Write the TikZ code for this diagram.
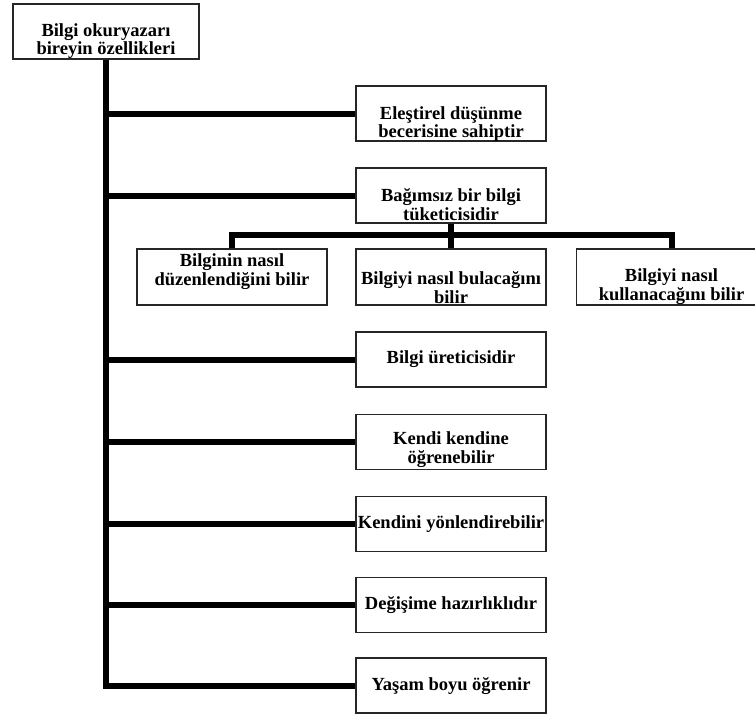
\documentclass[tikz,border=0pt]{standalone}
\usepackage{fontspec}
\setmainfont{Liberation Serif}
\begin{document}
\begin{tikzpicture}[x=1pt,y=-1pt,
  box/.style={draw=black!85, line width=1.5pt, fill=white,
    minimum width=190pt, minimum height=55pt, inner sep=0pt},
  lbl/.style={font=\fontsize{18.5}{18.8}\selectfont\bfseries,
    align=center, inner sep=0pt, text=black},
  conn/.style={line width=6pt, line join=miter, line cap=butt}]
\useasboundingbox (0,0) rectangle (755,716);

% frames
\node[box, minimum width=186pt] (top) at (106,31.5) {};
\node[box] (b1) at (451,113.5) {};
\node[box] (b2) at (451,195.5) {};
\node[box, minimum height=56pt] (s1) at (232,277) {};
\node[box, minimum height=56pt] (s2) at (451,277) {};
\node[box, minimum height=56pt] (s3) at (671.5,277) {};
\node[box] (b3) at (451,359.5) {};
\node[box] (b4) at (451,442) {};
\node[box] (b5) at (451,524) {};
\node[box] (b6) at (451,605) {};
\node[box] (b7) at (451,685.5) {};

% trunk and branches
\draw[conn] (top.south) |- (b7.west);
\foreach \b in {b1,b2,b3,b4,b5,b6}
  \draw[conn] (top.south |- \b.west) -- (\b.west);

% sub-branches
\draw[conn] (b2.south) -- (s2.north);
\draw[conn] (s1.north) -- ++(0,-13) -| (s3.north);

% labels
\node[lbl] (t0) at (106,41) {Bilgi okuryazarı\\bireyin özellikleri};
\node[lbl] (t1) at (451,124) {Eleştirel düşünme\\becerisine sahiptir};
\node[lbl] (t2) at (451,204.5) {Bağımsız bir bilgi\\tüketicisidir};
\node[lbl] (u1) at (232,272) {Bilginin nasıl\\düzenlendiğini bilir};
\node[lbl] (u2) at (451,287.5) {Bilgiyi nasıl bulacağını\\bilir};
\node[lbl] (u3) at (671.5,286.5) {Bilgiyi nasıl\\kullanacağını bilir};
\node[lbl] (t3) at (451,359.5) {Bilgi üreticisidir};
\node[lbl] (t4) at (451,450) {Kendi kendine\\öğrenebilir};
\node[lbl] (t5) at (451,524.5) {Kendini yönlendirebilir};
\node[lbl] (t6) at (451,605.5) {Değişime hazırlıklıdır};
\node[lbl] (t7) at (451,686.5) {Yaşam boyu öğrenir};
\end{tikzpicture}
\end{document}
